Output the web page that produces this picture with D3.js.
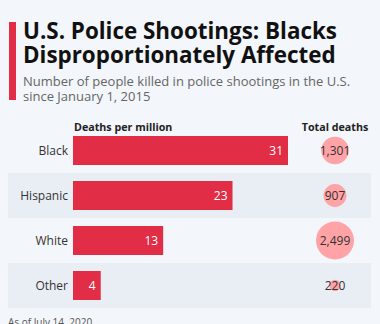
<!DOCTYPE html>
<html lang="en">
<head>
<meta charset="UTF-8">
<title>U.S. Police Shootings</title>
<style>
    body {
        margin: 0;
        background: #f3f6fa;
        font-family: "Open Sans", Arial, sans-serif;
    }
    svg { display: block; }
</style>
<script src="https://d3js.org/d3.v7.min.js"></script>
</head>
<body>
<svg width="380" height="324"></svg>
<script>
    const categories = ['Black', 'Hispanic', 'White', 'Other'];
    const perMillion = [31, 23, 13, 4];
    const totalDeaths = [1301, 907, 2499, 220];

    const width = 380, height = 324;
    const svg = d3.select('svg');

    // title block
    svg.append('rect')
        .attr('x', 9).attr('y', 22)
        .attr('width', 7).attr('height', 78)
        .attr('fill', '#e12d46');

    const title = svg.append('text')
        .attr('font-size', 22.4).attr('font-weight', 700)
        .attr('fill', '#111');
    title.append('tspan').attr('x', 23).attr('y', 39).text('U.S. Police Shootings: Blacks');
    title.append('tspan').attr('x', 23).attr('y', 63).text('Disproportionately Affected');

    const sub = svg.append('text')
        .attr('font-size', 13).attr('fill', '#666');
    sub.append('tspan').attr('x', 23).attr('y', 86).text('Number of people killed in police shootings in the U.S.');
    sub.append('tspan').attr('x', 23).attr('y', 101).text('since January 1, 2015');

    // layout
    const y = d3.scaleBand()
        .domain(categories)
        .range([128, 308])
        .paddingInner(0);

    const x = d3.scaleLinear()
        .domain([0, 31])
        .range([73, 288]);

    const r = d3.scaleSqrt()
        .domain([0, d3.max(totalDeaths)])
        .range([0, 19]);

    const rows = categories.map((c, i) => ({ cat: c, rate: perMillion[i], total: totalDeaths[i] }));

    // alternating bands
    svg.append('g').selectAll('rect')
        .data(rows.filter((d, i) => i % 2 === 1))
        .join('rect')
        .attr('x', 8).attr('width', 363)
        .attr('y', d => y(d.cat))
        .attr('height', y.bandwidth())
        .attr('fill', '#e9eef5');

    // column headers
    svg.append('text')
        .attr('x', 74).attr('y', 131)
        .attr('font-size', 10.7).attr('font-weight', 700).attr('fill', '#222')
        .text('Deaths per million');
    svg.append('text')
        .attr('x', 335).attr('y', 131)
        .attr('text-anchor', 'middle')
        .attr('font-size', 10.7).attr('font-weight', 700).attr('fill', '#222')
        .text('Total deaths');

    const barH = 29;
    const row = svg.append('g').selectAll('g')
        .data(rows)
        .join('g')
        .attr('transform', d => `translate(0,${y(d.cat) + y.bandwidth() / 2})`);

    row.append('text')
        .attr('x', 68).attr('dy', '0.35em')
        .attr('text-anchor', 'end')
        .attr('font-size', 12).attr('fill', '#333')
        .text(d => d.cat);

    row.append('rect')
        .attr('x', x(0))
        .attr('y', -barH / 2)
        .attr('width', d => x(d.rate) - x(0))
        .attr('height', barH)
        .attr('fill', '#e12d46');

    row.append('text')
        .attr('x', d => x(d.rate) - 5).attr('dy', '0.35em')
        .attr('text-anchor', 'end')
        .attr('font-size', 12).attr('fill', '#fff')
        .text(d => d.rate);

    row.append('circle')
        .attr('cx', 335)
        .attr('r', d => r(d.total))
        .attr('fill', '#ffa3a6');

    row.append('text')
        .attr('x', 335).attr('dy', '0.35em')
        .attr('text-anchor', 'middle')
        .attr('font-size', 12).attr('fill', '#333')
        .text(d => d3.format(',')(d.total));

    // footer (partly below the fold, as in the original)
    svg.append('text')
        .attr('x', 8).attr('y', 326)
        .attr('font-size', 10).attr('fill', '#555')
        .text('As of July 14, 2020');
</script>
</body>
</html>
